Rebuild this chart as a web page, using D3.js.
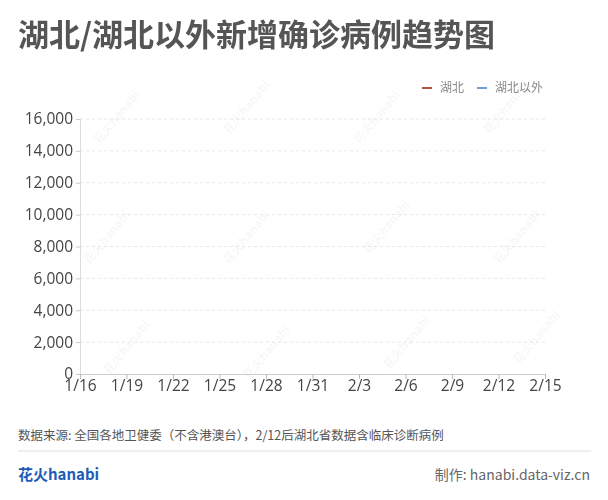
<!DOCTYPE html>
<html>
<head>
<meta charset="utf-8">
<script src="https://cdn.jsdelivr.net/npm/d3@7"></script>
<style>
  body { margin: 0; background: #fff; }
  svg { font-family: "Noto Sans CJK SC", "Noto Sans", sans-serif; }
</style>
</head>
<body>
<svg id="chart"></svg>
<script>
// report dates and daily new confirmed cases
const dates = ["1/16","1/17","1/18","1/19","1/20","1/21","1/22","1/23","1/24","1/25","1/26","1/27","1/28","1/29","1/30",
  "1/31","2/1","2/2","2/3","2/4","2/5","2/6","2/7","2/8","2/9","2/10","2/11","2/12","2/13","2/14","2/15"];
const hubei = [4,17,59,136,72,105,69,105,180,323,371,1291,840,1032,1220,
  1347,1921,2103,2345,3156,2987,2447,2841,2147,2618,2097,1638,14840,4823,2420,1843];
const outside = [0,0,0,3,5,44,62,154,264,365,398,480,619,705,762,
  755,669,726,890,731,707,696,558,509,444,381,377,312,267,221,166];
const seriesNames = ["湖北", "湖北以外"];
const seriesColors = ["#b5533c", "#6f9fd8"];
const xTicks = ["1/16","1/19","1/22","1/25","1/28","1/31","2/3","2/6","2/9","2/12","2/15"];
const yTicks = [0,2000,4000,6000,8000,10000,12000,14000,16000];
// the picture is the first frame of the reveal animation
const revealProgress = 0;

document.addEventListener("DOMContentLoaded", () => {
    const width = 608;
    const height = 500;
    const margin = { left: 80, right: 63, top: 119, bottom: 126 };

    const svg = d3.select("#chart")
        .attr("width", width)
        .attr("height", height);

    // faint watermark, kept inside the picture
    const wm = svg.append("g").attr("fill", "#000").attr("opacity", 0.035)
        .style("font-size", "12px").style("font-weight", "bold");
    const wmPos = [[120, 120], [250, 110], [380, 120], [510, 110],
                   [110, 240], [250, 240], [390, 230], [520, 240],
                   [130, 350], [270, 355], [410, 345], [540, 340]];
    wm.selectAll("text")
        .data(wmPos)
        .join("text")
        .attr("transform", d => `translate(${d[0]},${d[1]}) rotate(-50)`)
        .attr("text-anchor", "middle")
        .text("花火hanabi");

    svg.append("text")
        .attr("x", 18).attr("y", 46)
        .attr("fill", "#555")
        .style("font-size", "31px")
        .style("font-weight", "bold")
        .text("湖北/湖北以外新增确诊病例趋势图");

    const x = d3.scalePoint()
        .domain(dates)
        .range([margin.left, width - margin.right]);

    const y = d3.scaleLinear()
        .domain([0, 16000])
        .range([height - margin.bottom, margin.top]);

    // grid
    svg.append("g")
        .selectAll("line")
        .data(yTicks.slice(1))
        .join("line")
        .attr("x1", margin.left).attr("x2", width - margin.right)
        .attr("y1", d => y(d)).attr("y2", d => y(d))
        .attr("stroke", "#e6e6e6")
        .attr("stroke-dasharray", "3,3");

    const yAxis = svg.append("g")
        .attr("transform", `translate(${margin.left},0)`)
        .call(d3.axisLeft(y).tickValues(yTicks).tickFormat(d3.format(",")).tickSize(4));
    yAxis.select(".domain").attr("stroke", "#ddd");
    yAxis.selectAll(".tick line").attr("stroke", "#ccc");
    yAxis.selectAll("text")
        .attr("fill", "#444")
        .attr("x", -7)
        .style("font-size", "15.5px")
        .style("font-family", "\"Open Sans\", \"Noto Sans\", sans-serif");

    const xAxis = svg.append("g")
        .attr("transform", `translate(0,${height - margin.bottom})`)
        .call(d3.axisBottom(x).tickValues(xTicks).tickSize(5).tickSizeOuter(0));
    xAxis.select(".domain").attr("stroke", "#ccc");
    xAxis.selectAll(".tick line").attr("stroke", "#bbb");
    xAxis.selectAll("text")
        .attr("fill", "#444")
        .attr("y", 6)
        .style("font-size", "15.5px")
        .style("font-family", "\"Open Sans\", \"Noto Sans\", sans-serif");

    // lines, clipped by reveal progress
    const plotW = width - margin.right - margin.left;
    svg.append("clipPath").attr("id", "reveal")
        .append("rect")
        .attr("x", margin.left).attr("y", 0)
        .attr("width", plotW * revealProgress)
        .attr("height", height);

    const line = d3.line()
        .x((d, i) => x(dates[i]))
        .y(d => y(d));

    svg.append("g")
        .attr("clip-path", "url(#reveal)")
        .selectAll("path")
        .data([hubei, outside])
        .join("path")
        .attr("d", line)
        .attr("fill", "none")
        .attr("stroke", (d, i) => seriesColors[i])
        .attr("stroke-width", 2);

    // legend
    const legendPos = [422, 477];
    const legend = svg.append("g")
        .selectAll("g")
        .data(seriesNames)
        .join("g")
        .attr("transform", (d, i) => `translate(${legendPos[i]},88)`);
    legend.append("line")
        .attr("x1", 0).attr("x2", 10)
        .attr("stroke", (d, i) => seriesColors[i])
        .attr("stroke-width", 2);
    legend.append("text")
        .attr("x", 18).attr("y", 4)
        .attr("fill", "#888")
        .style("font-size", "12px")
        .text(d => d);

    // footer
    svg.append("text")
        .attr("x", 18).attr("y", 440)
        .attr("fill", "#555")
        .style("font-size", "12.5px")
        .text("数据来源: 全国各地卫健委（不含港澳台），2/12后湖北省数据含临床诊断病例");

    svg.append("line")
        .attr("x1", 18).attr("x2", 591)
        .attr("y1", 451).attr("y2", 451)
        .attr("stroke", "#e0e0e0");

    svg.append("text")
        .attr("x", 18).attr("y", 480)
        .attr("fill", "#1d5bb5")
        .style("font-size", "15px")
        .style("font-weight", "bold")
        .text("花火hanabi");

    svg.append("text")
        .attr("x", 590).attr("y", 480)
        .attr("text-anchor", "end")
        .attr("fill", "#666")
        .style("font-size", "14px")
        .text("制作: hanabi.data-viz.cn");
});
</script>
</body>
</html>
